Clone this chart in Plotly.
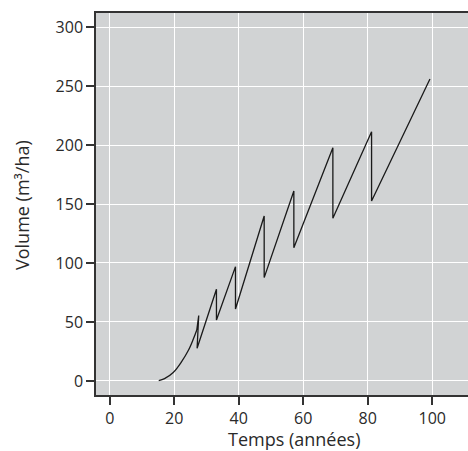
import plotly.graph_objects as go

# Croissance (courbe initiale) puis cycles d'éclaircies
curve_age = [15.2, 17.0, 19.7, 22.3, 24.4, 25.9, 27.0]
curve_vol = [0.3, 2.0, 7.2, 16.4, 26.0, 35.3, 43.2]

cycle_age = [27.0, 27.6, 27.1, 33.1, 33.1, 39.0, 39.0, 47.9, 47.9, 57.1, 57.1, 69.2, 69.2, 81.2, 81.2, 99.3]
cycle_vol = [43.2, 55.5, 27.7, 77.7, 51.7, 96.9, 61.0, 139.8, 87.6, 161.0, 113.0, 197.7, 137.9, 211.3, 152.5, 255.9]

x_ticks = [0, 20, 40, 60, 80, 100]
y_ticks = [0, 50, 100, 150, 200, 250, 300]

W, H = 468, 451
L, R, T = 96, 0, 13
B = H - 395
PW, PH = W - L - R, H - T - B

FONT = "Open Sans"
TXT = "#2a2a2a"

fig = go.Figure()
fig.add_trace(go.Scatter(x=curve_age, y=curve_vol, mode="lines",
                         line=dict(color="#1a1a1a", width=1.3, shape="spline", smoothing=1.0),
                         showlegend=False, hoverinfo="skip"))
fig.add_trace(go.Scatter(x=cycle_age, y=cycle_vol, mode="lines",
                         line=dict(color="#1a1a1a", width=1.3),
                         showlegend=False, hoverinfo="skip"))

axis_common = dict(
    showgrid=True, gridcolor="white", gridwidth=1.3,
    zeroline=False,
    showline=True, linecolor="#333333", linewidth=1.5,
    ticks="outside", ticklen=8, tickwidth=1.5, tickcolor="#333333",
    tickfont=dict(family=FONT, size=16, color=TXT),
)

def px_x(px):
    return (px - L) / PW

def px_y(py):
    return (H - B - py) / PH

fig.update_layout(
    width=W, height=H,
    margin=dict(l=L, r=R, t=T, b=B, pad=0),
    paper_bgcolor="white",
    plot_bgcolor="#d1d3d4",
    xaxis=dict(range=[-4.25, 111.1], tickvals=x_ticks, mirror=True, **axis_common),
    yaxis=dict(range=[-11.9, 311.9], tickvals=y_ticks, mirror=False, **axis_common),
    annotations=[
        dict(text="Temps (années)", xref="paper", yref="paper",
             x=px_x(294), y=px_y(439),
             xanchor="center", yanchor="middle", showarrow=False,
             font=dict(family=FONT, size=18, color=TXT)),
        dict(text="Volume (m³/ha)", xref="paper", yref="paper",
             x=px_x(22), y=px_y(205), textangle=-90,
             xanchor="center", yanchor="middle", showarrow=False,
             font=dict(family=FONT, size=18, color=TXT)),
    ],
)

fig.write_html("out.html", config={"displayModeBar": False},
               post_script="document.body.style.margin='0';document.body.style.overflow='hidden';")
